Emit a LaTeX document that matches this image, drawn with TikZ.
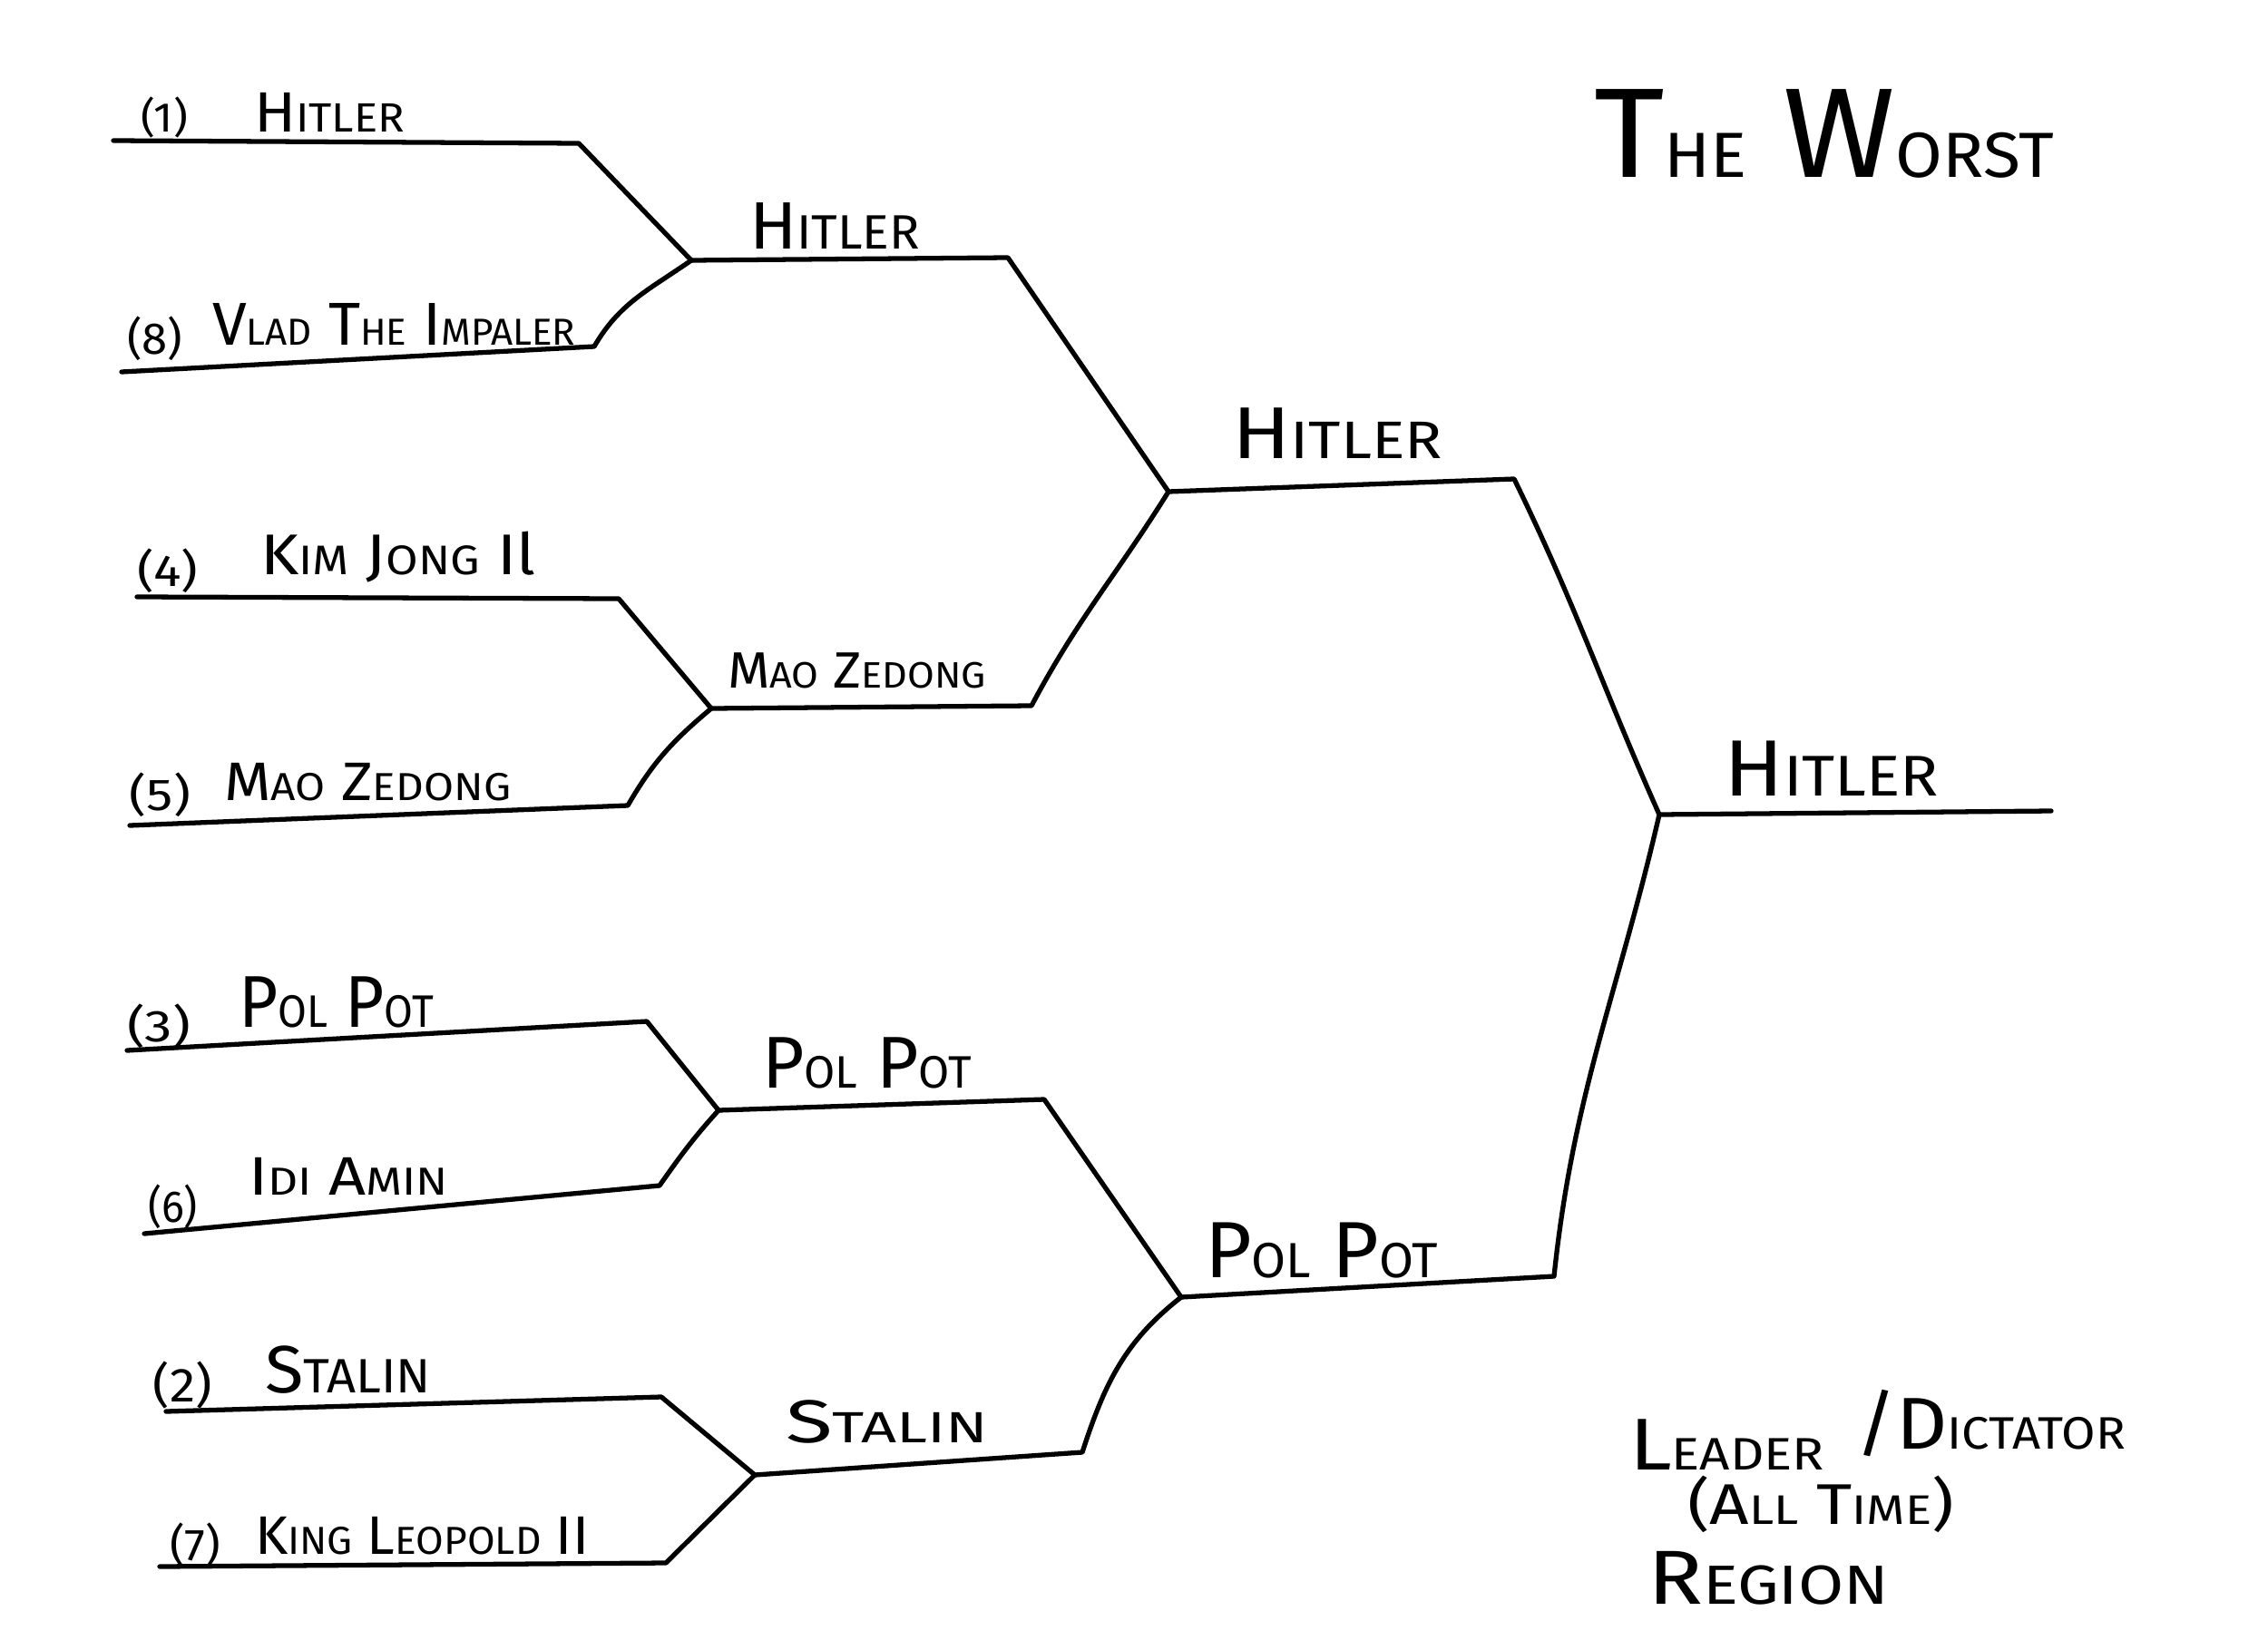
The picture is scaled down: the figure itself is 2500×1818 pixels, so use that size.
\documentclass[tikz,border=0pt]{standalone}
\usepackage{fontspec}
\setmainfont{Fira Sans}
\usepackage{graphicx}
\newcommand\SC[3][0.72]{#2\scalebox{#1}{#3}}
\newcommand\Lab[3]{\fontsize{#1}{#1}\selectfont\resizebox{#2}{\height}{#3}}
\begin{document}
\begin{tikzpicture}[x=0.01cm,y=-0.01cm,
  line width=1.5pt, line cap=round, line join=round,
  lbl/.style={anchor=base west, inner sep=0pt, outer sep=0pt}]
\useasboundingbox[fill=white] (0,0) rectangle (2500,1818);

% junction coordinates
\coordinate (s1) at (125,155);  \coordinate (e1) at (638,158);
\coordinate (s8) at (134,410);  \coordinate (e8) at (655,382);
\coordinate (j1) at (762,287);
\coordinate (a2) at (1111,284); \coordinate (j2) at (1288,542);
\coordinate (s4) at (151,658);  \coordinate (e4) at (682,660);
\coordinate (s5) at (143,910);  \coordinate (e5) at (692,888);
\coordinate (j3) at (784,781);  \coordinate (m2) at (1137,778);
\coordinate (h3) at (1669,528); \coordinate (j4) at (1829,898);
\coordinate (fin) at (2261,894);
\coordinate (s3) at (140,1158); \coordinate (e3) at (713,1126);
\coordinate (s6) at (159,1360); \coordinate (e6) at (727,1307);
\coordinate (j5) at (792,1224); \coordinate (p2) at (1151,1212);
\coordinate (j6) at (1302,1430);
\coordinate (s2) at (183,1556); \coordinate (e2) at (729,1540);
\coordinate (s7) at (176,1727); \coordinate (e7) at (734,1723);
\coordinate (j7) at (832,1626); \coordinate (st2) at (1193,1601);
\coordinate (p3) at (1713,1407);

% bracket lines
\draw (s1) -- (e1) -- (j1);
\draw (s8) -- (e8) to[out=60,in=215] (j1);
\draw (j1) -- (a2) -- (j2);
\draw (s4) -- (e4) -- (j3);
\draw (s5) -- (e5) to[out=60,in=220] (j3);
\draw (j3) -- (m2) to[out=62,in=238] (j2);
\draw (j2) -- (h3) to[out=-64,in=114] (j4);
\draw (j4) -- (fin);
\draw (s3) -- (e3) -- (j5);
\draw (s6) -- (e6) to[out=55,in=228] (j5);
\draw (j5) -- (p2) -- (j6);
\draw (s2) -- (e2) -- (j7);
\draw (s7) -- (e7) -- (j7);
\draw (j7) -- (st2) to[out=72,in=218] (j6);
\draw (j6) -- (p3) to[out=84,in=-103] (j4);

% round 1 labels
\node[lbl] (n1) at (155,145) {\Lab{13pt}{0.52cm}{(1)}};
\node[lbl] (t1) at (280,145) {\Lab{17.8pt}{1.66cm}{\SC{H}{ITLER}}};
\node[lbl] (n8) at (140,390) {\Lab{14pt}{0.61cm}{(8)}};
\node[lbl] (t8) at (234,380) {\Lab{19pt}{4.0cm}{\SC[0.62]{V}{LAD} \SC[0.62]{T}{HE} \SC[0.62]{I}{MPALER}}};
\node[lbl] (n4) at (151,646) {\Lab{14pt}{0.67cm}{(4)}};
\node[lbl] (t4) at (287,633) {\Lab{18pt}{3.03cm}{\SC{K}{IM} \SC{J}{ONG} Il}};
\node[lbl] (n5) at (143,893) {\Lab{14pt}{0.67cm}{(5)}};
\node[lbl] (t5) at (247,882) {\Lab{17pt}{3.16cm}{\SC{M}{AO} \SC{Z}{EDONG}}};
\node[lbl] (n3) at (140,1148) {\Lab{14pt}{0.70cm}{(3)}};
\node[lbl] (t3) at (263,1132) {\Lab{23pt}{2.15cm}{\SC[0.62]{P}{OL} \SC[0.62]{P}{OT}}};
\node[lbl] (n6) at (163,1347) {\Lab{14pt}{0.55cm}{(6)}};
\node[lbl] (t6) at (274,1317) {\Lab{17pt}{2.2cm}{\SC{I}{DI} \SC{A}{MIN}}};
\node[lbl] (n2) at (169,1545) {\Lab{15pt}{0.65cm}{(2)}};
\node[lbl] (t2) at (292,1535) {\Lab{21pt}{1.83cm}{\SC{S}{TALIN}}};
\node[lbl] (n7) at (187,1720) {\Lab{14pt}{0.56cm}{(7)}};
\node[lbl] (t7) at (281,1713) {\Lab{17pt}{3.68cm}{\SC{K}{ING} \SC{L}{EOPOLD} II}};

% later rounds
\node[lbl] (r2a) at (826,274) {\Lab{21pt}{1.88cm}{\SC{H}{ITLER}}};
\node[lbl] (r2b) at (802,758) {\Lab{16pt}{2.85cm}{\SC{M}{AO} \SC{Z}{EDONG}}};
\node[lbl] (r2c) at (840,1199) {\Lab{23pt}{2.31cm}{\SC[0.62]{P}{OL} \SC[0.62]{P}{OT}}};
\node[lbl] (r2d) at (866,1590) {\Lab{19pt}{2.23cm}{\SC{S}{TALIN}}};
\node[lbl] (r3a) at (1358,505) {\Lab{23pt}{2.32cm}{\SC{H}{ITLER}}};
\node[lbl] (r3b) at (1328,1408) {\Lab{25pt}{2.57cm}{\SC[0.62]{P}{OL} \SC[0.62]{P}{OT}}};
\node[lbl] (champ) at (1900,877) {\Lab{25pt}{2.37cm}{\SC{H}{ITLER}}};

% titles
\node[lbl] (title) at (1757,195) {\Lab{40pt}{5.07cm}{\SC[0.5]{T}{HE} \SC[0.5]{W}{ORST}}};
\node[lbl] (sub1) at (1796,1620) {\Lab{23pt}{2.15cm}{\SC[0.62]{L}{EADER}}};
\node[lbl] (sub1b) at (2045,1597) {\Lab{23pt}{2.98cm}{/\SC[0.62]{D}{ICTATOR}}};
\node[lbl] (sub2) at (1860,1680) {\Lab{18pt}{2.94cm}{(\SC{A}{LL} \SC{T}{IME})}};
\node[lbl] (sub3) at (1816,1768) {\Lab{24pt}{2.66cm}{\SC{R}{EGION}}};
\end{tikzpicture}
\end{document}
